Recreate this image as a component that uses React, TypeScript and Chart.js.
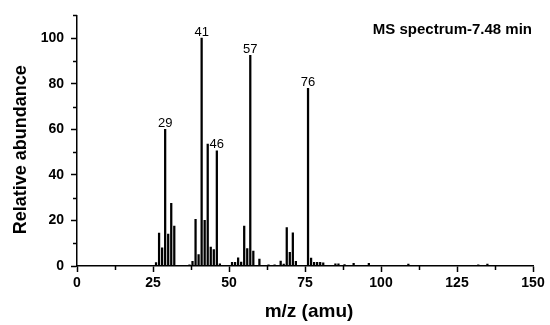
import React, { useEffect, useRef } from "react";
import { Chart, registerables } from "chart.js";

Chart.register(...registerables);

// m/z values of the peaks
const mzValues = [
  26, 27, 28, 29, 30, 31, 32,
  37, 38, 39, 40, 41, 42, 43, 44, 45, 46, 47,
  51, 52, 53, 54, 55, 56, 57, 58, 60,
  63, 65, 67, 68, 69, 70, 71, 72,
  76, 77, 78, 79, 80, 81,
  85, 86, 88, 91, 96,
  109, 132, 135,
];

// relative abundance of each peak
const abundance = [
  1.5, 14.5, 8, 60, 14, 27.5, 17.5,
  0.5, 2, 20.5, 5, 100, 20, 53.5, 8.3, 7.2, 50.5, 1,
  1.6, 1.6, 3.6, 1.7, 17.5, 7.6, 92.5, 6.5, 3,
  0.5, 0.5, 2.2, 0.8, 16.9, 6, 14.6, 2,
  78, 3.5, 1.6, 1.6, 1.6, 1.4,
  1, 1, 0.6, 1.2, 1.2,
  0.8, 0.5, 0.8,
];

const labeledPeaks = [29, 41, 46, 57, 76];

const xMinorTicks = [12.5, 37.5, 62.5, 87.5, 112.5, 137.5];
const yMinorTicks = [10, 30, 50, 70, 90, 110];

const chartTitle = "MS spectrum-7.48 min";
const xTitle = "m/z (amu)";
const yTitle = "Relative abundance";

const FONT = '"Liberation Sans", Arial, sans-serif';

const decorPlugin = {
  id: "decor",
  afterDraw(chart: any) {
    const ctx = chart.ctx as CanvasRenderingContext2D;
    const xs = chart.scales.x;
    const ys = chart.scales.y;
    const area = chart.chartArea;
    ctx.save();

    // minor ticks
    ctx.strokeStyle = "#000";
    ctx.lineWidth = 1.5;
    for (const v of xMinorTicks) {
      const px = Math.round(xs.getPixelForValue(v)) + 0.5;
      ctx.beginPath();
      ctx.moveTo(px, area.bottom);
      ctx.lineTo(px, area.bottom + 4);
      ctx.stroke();
    }
    for (const v of yMinorTicks) {
      const py = Math.round(ys.getPixelForValue(v)) + 0.5;
      ctx.beginPath();
      ctx.moveTo(area.left, py);
      ctx.lineTo(area.left - 4, py);
      ctx.stroke();
    }

    // peak labels
    const meta = chart.getDatasetMeta(0);
    ctx.fillStyle = "#000";
    ctx.font = `13px ${FONT}`;
    ctx.textAlign = "center";
    ctx.textBaseline = "alphabetic";
    mzValues.forEach((m, i) => {
      if (labeledPeaks.includes(m)) {
        const el = meta.data[i];
        ctx.fillText(String(m), el.x, el.y - 2.5);
      }
    });

    // chart title
    ctx.font = `bold 15px ${FONT}`;
    ctx.textAlign = "right";
    ctx.fillText(chartTitle, area.right - 1, area.top + 19);

    // x axis title
    ctx.font = `bold 19px ${FONT}`;
    ctx.textAlign = "center";
    ctx.fillText(xTitle, (area.left + area.right) / 2 + 4, area.bottom + 51);

    // y axis title
    ctx.font = `bold 18px ${FONT}`;
    ctx.translate(25.5, (area.top + area.bottom) / 2 + 9);
    ctx.rotate(-Math.PI / 2);
    ctx.textAlign = "center";
    ctx.fillText(yTitle, 0, 0);

    ctx.restore();
  },
};

export default function App() {
  const canvasRef = useRef<HTMLCanvasElement | null>(null);

  useEffect(() => {
    const canvas = canvasRef.current;
    if (!canvas) return;
    const chart = new Chart(canvas, {
      type: "bar",
      data: {
        datasets: [
          {
            data: mzValues.map((m, i) => ({ x: m, y: abundance[i] })),
            backgroundColor: "#000",
            borderWidth: 0,
            barThickness: 1.6,
          } as any,
        ],
      },
      options: {
        responsive: false,
        animation: false,
        layout: { padding: { top: 12, right: 17, left: 0, bottom: 0 } },
        plugins: {
          legend: { display: false },
          tooltip: { enabled: false },
        },
        scales: {
          x: {
            type: "linear",
            min: 0,
            max: 150,
            offset: false,
            grid: {
              offset: false,
              drawOnChartArea: false,
              drawTicks: true,
              tickLength: 6,
              tickColor: "#000",
              tickWidth: 1.5,
            },
            border: { display: true, color: "#000", width: 1.5 },
            ticks: {
              stepSize: 25,
              padding: 3,
              color: "#000",
              font: { family: FONT, size: 14, weight: "bold" },
              maxRotation: 0,
            },
            afterFit: (scale: any) => {
              scale.height = 59;
            },
          } as any,
          y: {
            type: "linear",
            min: 0,
            max: 110,
            grid: {
              drawOnChartArea: false,
              drawTicks: true,
              tickLength: 6,
              tickColor: "#000",
              tickWidth: 1.5,
            },
            border: { display: true, color: "#000", width: 1.5 },
            ticks: {
              stepSize: 20,
              includeBounds: false,
              padding: 7,
              color: "#000",
              font: { family: FONT, size: 14, weight: "bold" },
            },
            afterFit: (scale: any) => {
              scale.width = 77;
            },
          } as any,
        },
      },
      plugins: [decorPlugin],
    });
    return () => chart.destroy();
  }, []);

  return (
    <div style={{ position: "absolute", left: 0, top: 0, width: 550, height: 325, background: "#fff" }}>
      <canvas ref={canvasRef} width={550} height={325} style={{ display: "block" }} />
    </div>
  );
}
